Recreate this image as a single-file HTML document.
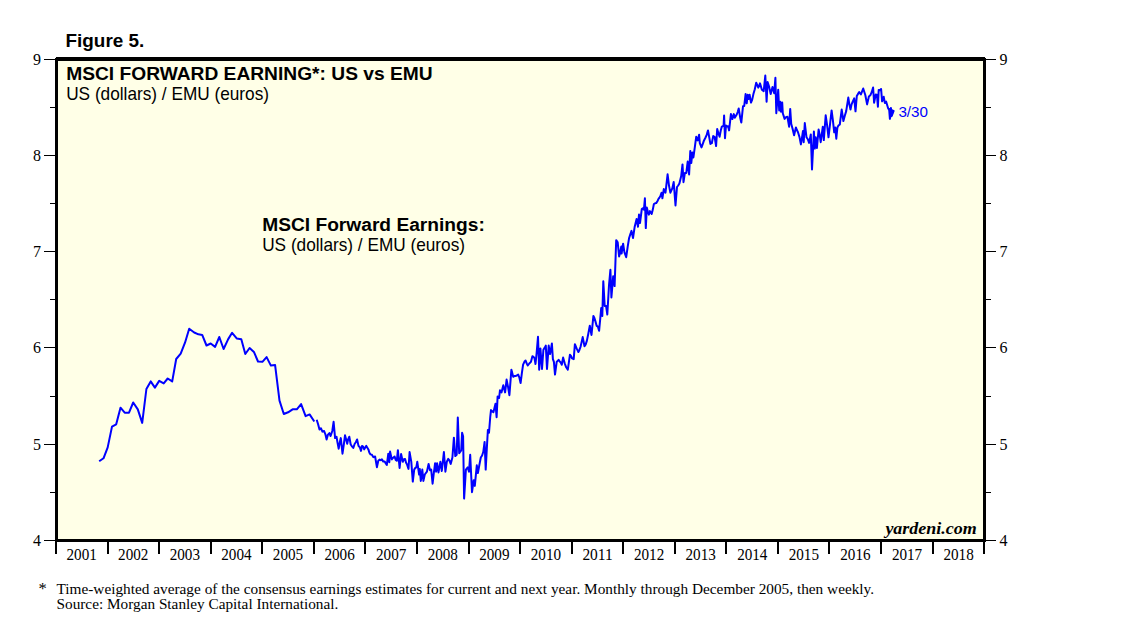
<!DOCTYPE html>
<html><head><meta charset="utf-8"><title>Figure 5</title>
<style>
html,body{margin:0;padding:0;background:#fff;}
body{width:1138px;height:635px;overflow:hidden;position:relative;font-family:"Liberation Sans",sans-serif;}
svg{position:absolute;left:0;top:0;display:block;}
.serif{font-family:"Liberation Serif",serif;}
.sans{font-family:"Liberation Sans",sans-serif;}
</style></head><body>
<svg width="1138" height="635" viewBox="0 0 1138 635">
<rect x="0" y="0" width="1138" height="635" fill="#ffffff"/>
<rect x="55" y="57" width="931" height="485" fill="#ffffe7"/>
<g fill="#000" shape-rendering="crispEdges">
<rect x="55" y="57" width="931" height="4"/>
<rect x="55" y="539" width="931" height="3"/>
<rect x="55" y="57" width="3" height="485"/>
<rect x="983" y="57" width="3" height="485"/>
<rect x="55" y="57" width="1" height="1" fill="#fff"/><rect x="985" y="57" width="1" height="1" fill="#fff"/>
<rect x="44" y="59" width="11" height="1"/><rect x="986" y="59" width="10" height="1"/>
<rect x="44" y="155" width="11" height="1"/><rect x="986" y="155" width="10" height="1"/>
<rect x="44" y="251" width="11" height="1"/><rect x="986" y="251" width="10" height="1"/>
<rect x="44" y="347" width="11" height="1"/><rect x="986" y="347" width="10" height="1"/>
<rect x="44" y="444" width="11" height="1"/><rect x="986" y="444" width="10" height="1"/>
<rect x="44" y="540" width="11" height="1"/><rect x="986" y="540" width="10" height="1"/>
<rect x="50" y="107" width="5" height="1"/><rect x="986" y="107" width="5" height="1"/>
<rect x="50" y="203" width="5" height="1"/><rect x="986" y="203" width="5" height="1"/>
<rect x="50" y="299" width="5" height="1"/><rect x="986" y="299" width="5" height="1"/>
<rect x="50" y="396" width="5" height="1"/><rect x="986" y="396" width="5" height="1"/>
<rect x="50" y="492" width="5" height="1"/><rect x="986" y="492" width="5" height="1"/>
<rect x="55" y="541" width="2" height="13"/>
<rect x="107" y="541" width="2" height="13"/>
<rect x="158" y="541" width="2" height="13"/>
<rect x="210" y="541" width="2" height="13"/>
<rect x="261" y="541" width="2" height="13"/>
<rect x="313" y="541" width="2" height="13"/>
<rect x="364" y="541" width="2" height="13"/>
<rect x="416" y="541" width="2" height="13"/>
<rect x="468" y="541" width="2" height="13"/>
<rect x="519" y="541" width="2" height="13"/>
<rect x="571" y="541" width="2" height="13"/>
<rect x="622" y="541" width="2" height="13"/>
<rect x="674" y="541" width="2" height="13"/>
<rect x="725" y="541" width="2" height="13"/>
<rect x="777" y="541" width="2" height="13"/>
<rect x="828" y="541" width="2" height="13"/>
<rect x="880" y="541" width="2" height="13"/>
<rect x="932" y="541" width="2" height="13"/>
<rect x="983" y="541" width="2" height="13"/>
</g>
<g class="serif" font-size="16px" fill="#000">
<text x="37.1" y="65" text-anchor="middle">9</text><text x="1003.5" y="65" text-anchor="middle">9</text>
<text x="37.1" y="161" text-anchor="middle">8</text><text x="1003.5" y="161" text-anchor="middle">8</text>
<text x="37.1" y="257" text-anchor="middle">7</text><text x="1003.5" y="257" text-anchor="middle">7</text>
<text x="37.1" y="353" text-anchor="middle">6</text><text x="1003.5" y="353" text-anchor="middle">6</text>
<text x="37.1" y="450" text-anchor="middle">5</text><text x="1003.5" y="450" text-anchor="middle">5</text>
<text x="37.1" y="546" text-anchor="middle">4</text><text x="1003.5" y="546" text-anchor="middle">4</text>
<text x="81.68" y="559.8" text-anchor="middle" textLength="30.3" lengthAdjust="spacingAndGlyphs">2001</text>
<text x="133.26" y="559.8" text-anchor="middle" textLength="30.3" lengthAdjust="spacingAndGlyphs">2002</text>
<text x="184.85" y="559.8" text-anchor="middle" textLength="30.3" lengthAdjust="spacingAndGlyphs">2003</text>
<text x="236.43" y="559.8" text-anchor="middle" textLength="30.3" lengthAdjust="spacingAndGlyphs">2004</text>
<text x="288.02" y="559.8" text-anchor="middle" textLength="30.3" lengthAdjust="spacingAndGlyphs">2005</text>
<text x="339.61" y="559.8" text-anchor="middle" textLength="30.3" lengthAdjust="spacingAndGlyphs">2006</text>
<text x="391.19" y="559.8" text-anchor="middle" textLength="30.3" lengthAdjust="spacingAndGlyphs">2007</text>
<text x="442.78" y="559.8" text-anchor="middle" textLength="30.3" lengthAdjust="spacingAndGlyphs">2008</text>
<text x="494.36" y="559.8" text-anchor="middle" textLength="30.3" lengthAdjust="spacingAndGlyphs">2009</text>
<text x="545.95" y="559.8" text-anchor="middle" textLength="30.3" lengthAdjust="spacingAndGlyphs">2010</text>
<text x="597.53" y="559.8" text-anchor="middle" textLength="30.3" lengthAdjust="spacingAndGlyphs">2011</text>
<text x="649.12" y="559.8" text-anchor="middle" textLength="30.3" lengthAdjust="spacingAndGlyphs">2012</text>
<text x="700.70" y="559.8" text-anchor="middle" textLength="30.3" lengthAdjust="spacingAndGlyphs">2013</text>
<text x="752.29" y="559.8" text-anchor="middle" textLength="30.3" lengthAdjust="spacingAndGlyphs">2014</text>
<text x="803.88" y="559.8" text-anchor="middle" textLength="30.3" lengthAdjust="spacingAndGlyphs">2015</text>
<text x="855.46" y="559.8" text-anchor="middle" textLength="30.3" lengthAdjust="spacingAndGlyphs">2016</text>
<text x="907.05" y="559.8" text-anchor="middle" textLength="30.3" lengthAdjust="spacingAndGlyphs">2017</text>
<text x="958.63" y="559.8" text-anchor="middle" textLength="30.3" lengthAdjust="spacingAndGlyphs">2018</text>
</g>
<g fill="none" stroke="#0000ff" stroke-width="2" stroke-linejoin="round" stroke-linecap="butt">
<path d="M99.2,461.3 L103.5,458.3 L107.7,447.4 L112.0,426.6 L116.2,424.3 L120.5,407.7 L124.7,412.7 L129.0,412.7 L133.2,402.5 L137.8,409.4 L142.2,422.9 L146.4,389.0 L150.7,381.4 L154.9,387.6 L159.2,380.9 L163.7,383.4 L167.7,378.5 L172.2,381.4 L176.2,359.0 L180.7,353.7 L185.0,342.7 L189.2,328.8 L194.2,332.5 L198.4,334.3 L202.2,334.9 L206.5,345.5 L210.7,343.5 L215.1,346.9 L219.3,337.0 L223.6,349.0 L228.2,339.1 L232.1,332.8 L236.7,338.4 L241.3,339.2 L245.3,354.0 L249.6,348.0 L253.9,351.9 L258.0,361.5 L262.4,361.8 L266.6,357.1 L270.9,365.6 L275.1,365.1 L279.5,400.6 L283.8,414.0 L288.1,412.3 L292.6,409.3 L296.8,409.3 L301.1,404.1 L305.6,416.1 L309.6,414.4 L314.3,421.5"/>
<path d="M316.7,419.7 L318.1,424.2 L319.5,429.6 L320.9,428.2 L322.4,431.7 L324.1,431.0 L325.4,434.3 L326.6,439.5 L328.0,434.6 L329.4,433.1 L330.6,436.0 L332.3,431.0 L333.6,421.8 L335.1,438.1 L336.5,436.7 L337.6,443.1 L338.7,448.7 L339.8,442.3 L340.8,438.1 L342.5,453.7 L343.8,444.6 L345.0,435.3 L346.1,439.2 L347.2,443.8 L348.2,439.1 L349.3,436.7 L350.7,444.5 L352.0,446.3 L353.3,448.0 L354.6,444.0 L355.8,442.2 L357.1,439.5 L358.5,445.9 L359.8,447.3 L361.0,450.9 L362.0,445.9 L363.1,446.6 L364.2,449.4 L365.2,447.5 L366.3,445.9 L368.4,449.4 L369.4,452.7 L370.5,454.4 L371.9,454.8 L373.4,457.2 L375.1,456.5 L376.9,467.2 L378.3,460.8 L379.5,459.6 L380.7,460.2 L381.9,459.4 L383.3,461.6 L384.7,461.5 L385.8,463.5 L386.8,465.0 L388.3,453.7 L389.3,462.2 L390.1,451.6 L391.8,459.4 L393.2,457.7 L394.6,456.5 L395.7,459.9 L396.8,460.8 L397.9,450.2 L399.6,467.9 L401.1,454.0 L402.8,461.8 L403.9,459.2 L405.0,458.9 L406.1,462.7 L407.1,464.6 L408.5,468.9 L409.6,452.1 L411.3,461.8 L412.8,481.6 L414.2,469.6 L415.2,468.0 L416.3,467.4 L417.3,461.8 L419.1,474.5 L419.8,468.9 L420.8,480.9 L422.3,469.6 L423.4,480.9 L424.8,474.5 L426.9,471.7 L428.6,463.9 L430.0,470.3 L431.2,469.6 L432.6,483.7 L433.9,472.5 L435.1,463.2 L436.1,471.7 L437.1,463.2 L438.5,472.4 L440.4,461.8 L441.8,471.0 L443.9,452.1 L445.4,471.7 L446.8,461.8 L448.2,458.9 L449.4,460.4 L450.7,463.9 L452.4,457.5 L453.9,437.7 L455.3,456.1 L456.7,454.7 L457.8,417.6 L459.2,453.3 L461.2,450.4 L462.1,432.7 L463.1,436.3 L464.1,498.6 L465.9,469.6 L467.7,467.4 L469.0,471.7 L470.2,454.7 L472.0,492.2 L473.7,480.2 L474.8,485.9 L476.8,465.3 L477.9,473.1 L479.4,464.8 L480.8,457.5 L482.1,455.5 L483.3,451.8 L484.6,441.9 L485.7,469.6 L486.8,448.9 L487.9,429.9 L489.0,432.7 L490.2,417.5 L491.0,410.1 L492.2,411.4 L493.4,412.2 L494.4,408.3 L495.5,403.7 L496.6,417.2 L497.6,396.6 L499.1,398.0 L500.0,390.2 L501.5,392.4 L503.3,385.3 L505.1,392.4 L506.6,379.6 L508.0,386.7 L509.4,395.2 L511.4,369.7 L513.2,376.8 L514.3,376.1 L515.4,376.1 L516.8,375.5 L518.2,374.6 L519.4,377.7 L520.6,383.1 L521.9,372.8 L523.1,364.7 L524.4,361.8 L525.6,360.5 L526.7,363.4 L527.8,365.4 L529.3,363.5 L530.9,361.9 L532.4,356.2 L533.5,356.8 L534.5,358.3 L535.5,364.0 L536.6,353.4 L538.0,336.8 L539.2,369.7 L540.4,348.4 L542.0,369.0 L543.4,349.8 L544.6,347.9 L545.8,345.6 L547.0,369.0 L548.7,345.6 L550.1,354.1 L551.9,343.5 L552.9,359.1 L553.9,361.9 L555.0,374.6 L556.7,361.9 L558.6,359.8 L559.7,361.3 L560.7,362.5 L561.8,364.7 L563.1,357.6 L564.7,363.3 L566.2,367.3 L567.8,369.7 L568.8,362.8 L569.9,354.8 L571.0,355.9 L572.0,358.3 L573.7,359.1 L574.9,344.2 L576.6,348.4 L578.4,352.0 L579.5,349.7 L580.5,347.0 L581.6,342.1 L582.7,337.1 L584.5,346.3 L585.7,344.4 L586.9,340.6 L588.3,333.8 L589.8,325.8 L591.5,335.0 L593.4,315.9 L594.5,318.2 L595.5,321.6 L596.7,325.9 L597.9,326.7 L599.1,330.8 L600.2,319.2 L601.2,308.1 L602.3,315.9 L603.3,281.2 L604.7,306.0 L606.1,306.0 L607.3,314.5 L609.0,285.4 L610.4,269.8 L611.4,297.5 L613.2,276.2 L614.6,286.1 L616.2,240.2 L617.7,242.3 L619.1,256.5 L620.2,252.2 L621.3,246.5 L621.6,253.6 L623.1,243.7 L624.4,252.2 L626.2,257.2 L627.7,246.7 L629.1,238.0 L630.3,234.4 L631.5,230.9 L633.0,238.0 L634.7,226.7 L636.6,218.9 L638.0,226.7 L639.0,214.6 L640.0,223.1 L641.8,209.0 L642.8,208.2 L643.9,209.7 L644.9,198.3 L645.8,228.1 L646.8,207.6 L647.8,211.5 L648.9,214.6 L649.9,211.1 L651.7,213.9 L652.8,209.6 L653.9,204.0 L655.1,203.3 L656.2,203.1 L657.4,201.2 L658.5,198.9 L659.5,197.6 L660.5,195.7 L661.6,192.7 L662.4,198.3 L663.8,189.1 L665.5,192.7 L666.3,185.6 L667.6,174.3 L669.0,185.6 L670.4,192.7 L672.3,188.4 L673.7,182.0 L675.5,205.4 L677.0,187.0 L678.2,185.5 L679.4,183.5 L681.2,176.0 L682.5,164.4 L683.5,182.2 L684.9,172.9 L686.3,172.9 L687.7,161.6 L689.1,174.4 L690.3,151.0 L691.3,163.0 L692.4,152.4 L693.4,157.4 L694.8,147.3 L696.2,136.8 L697.6,140.4 L699.1,134.7 L699.8,143.2 L701.5,147.4 L702.8,143.8 L704.0,140.4 L705.3,138.0 L706.7,134.9 L708.0,130.4 L709.2,137.1 L710.4,143.9 L711.8,143.2 L713.2,136.1 L714.6,136.8 L716.1,146.0 L717.2,129.0 L718.4,133.3 L719.6,136.8 L720.7,130.7 L721.7,126.9 L723.6,125.5 L724.1,115.5 L725.0,138.2 L726.0,125.5 L727.0,126.4 L728.1,126.2 L729.1,130.4 L730.9,114.1 L732.4,119.1 L733.8,114.1 L734.8,117.7 L736.6,114.8 L737.7,112.0 L738.7,108.5 L740.2,117.7 L741.3,122.6 L743.0,106.3 L744.2,106.1 L745.6,94.1 L746.7,103.3 L747.7,94.8 L748.7,99.0 L749.6,94.8 L751.0,102.6 L752.2,99.6 L753.4,94.1 L754.8,89.2 L756.2,82.7 L758.3,87.7 L760.0,83.4 L761.9,89.8 L763.7,91.2 L765.3,75.6 L766.6,101.8 L767.6,82.0 L769.0,86.3 L770.7,94.1 L772.5,87.0 L774.2,93.3 L775.4,77.8 L776.3,113.2 L778.2,89.8 L779.2,110.4 L780.3,101.8 L781.0,111.8 L782.2,102.6 L782.8,113.2 L784.6,118.9 L786.0,117.2 L787.4,116.7 L789.1,126.7 L790.2,108.9 L791.2,123.8 L792.7,129.2 L794.1,135.2 L795.9,127.4 L797.0,130.3 L798.0,132.3 L799.5,137.1 L800.9,144.4 L802.0,137.6 L803.0,130.9 L803.7,142.2 L804.8,123.1 L806.5,137.3 L807.8,139.2 L809.1,142.9 L810.8,134.4 L812.0,169.4 L813.9,131.6 L814.8,148.6 L815.7,137.3 L816.9,147.9 L818.6,129.5 L819.7,134.9 L820.7,142.2 L822.8,126.7 L823.8,140.1 L825.7,115.3 L827.1,125.2 L828.5,137.3 L830.0,124.5 L831.6,110.4 L832.9,120.4 L834.2,132.3 L835.2,127.4 L836.3,138.7 L837.4,127.4 L838.6,125.3 L839.8,124.5 L841.7,109.6 L843.4,121.0 L844.8,115.8 L846.2,111.1 L848.3,97.6 L849.4,104.6 L850.5,109.6 L851.5,104.6 L852.6,101.8 L854.2,98.3 L855.5,111.3 L856.8,96.0 L858.0,93.9 L859.2,92.1 L860.9,94.5 L862.0,91.6 L863.2,88.5 L865.3,95.0 L867.1,104.4 L868.9,96.5 L870.3,95.3 L871.7,92.2 L873.1,87.5 L874.1,102.8 L875.7,94.6 L876.9,94.7 L877.9,106.7 L878.7,89.9 L879.9,90.3 L881.1,89.0 L882.1,101.3 L883.7,96.8 L884.9,103.1 L886.1,101.5 L888.1,108.2 L889.2,110.0 L889.9,118.8 L890.9,107.9 L891.7,115.9 L893.8,110.3"/>
</g>
<polygon points="888.2,107.4 894.4,110.2 892,116.6 890,119 889.2,112" fill="#0000ff"/>
<g class="sans" fill="#000">
<text x="65.5" y="46.9" font-size="19.2px" font-weight="bold" textLength="78.8" lengthAdjust="spacingAndGlyphs">Figure 5.</text>
<text x="66.2" y="79.6" font-size="19.2px" font-weight="bold" textLength="366.4" lengthAdjust="spacingAndGlyphs">MSCI FORWARD EARNING*: US vs EMU</text>
<text x="66.2" y="99.5" font-size="17.7px" textLength="202.8" lengthAdjust="spacingAndGlyphs">US (dollars) / EMU (euros)</text>
<text x="262.2" y="231" font-size="19.2px" font-weight="bold" textLength="222.6" lengthAdjust="spacingAndGlyphs">MSCI Forward Earnings:</text>
<text x="262.2" y="250.7" font-size="17.7px" textLength="202.8" lengthAdjust="spacingAndGlyphs">US (dollars) / EMU (euros)</text>
</g>
<text class="sans" x="898.4" y="116.8" font-size="15.4px" fill="#0000ff" textLength="29.6" lengthAdjust="spacingAndGlyphs">3/30</text>
<text class="serif" x="885.4" y="534" font-size="17px" font-weight="bold" font-style="italic" fill="#000" textLength="91.4" lengthAdjust="spacingAndGlyphs">yardeni.com</text>
<g class="serif" font-size="15.3px" fill="#000">
<text x="38.4" y="594.2" font-size="16.5px">*</text>
<text x="56.5" y="593.6" textLength="817.6" lengthAdjust="spacingAndGlyphs">Time-weighted average of the consensus earnings estimates for current and next year. Monthly through December 2005, then weekly.</text>
<text x="56.5" y="608.6" textLength="281.8" lengthAdjust="spacingAndGlyphs">Source: Morgan Stanley Capital International.</text>
</g>
</svg>
</body></html>
